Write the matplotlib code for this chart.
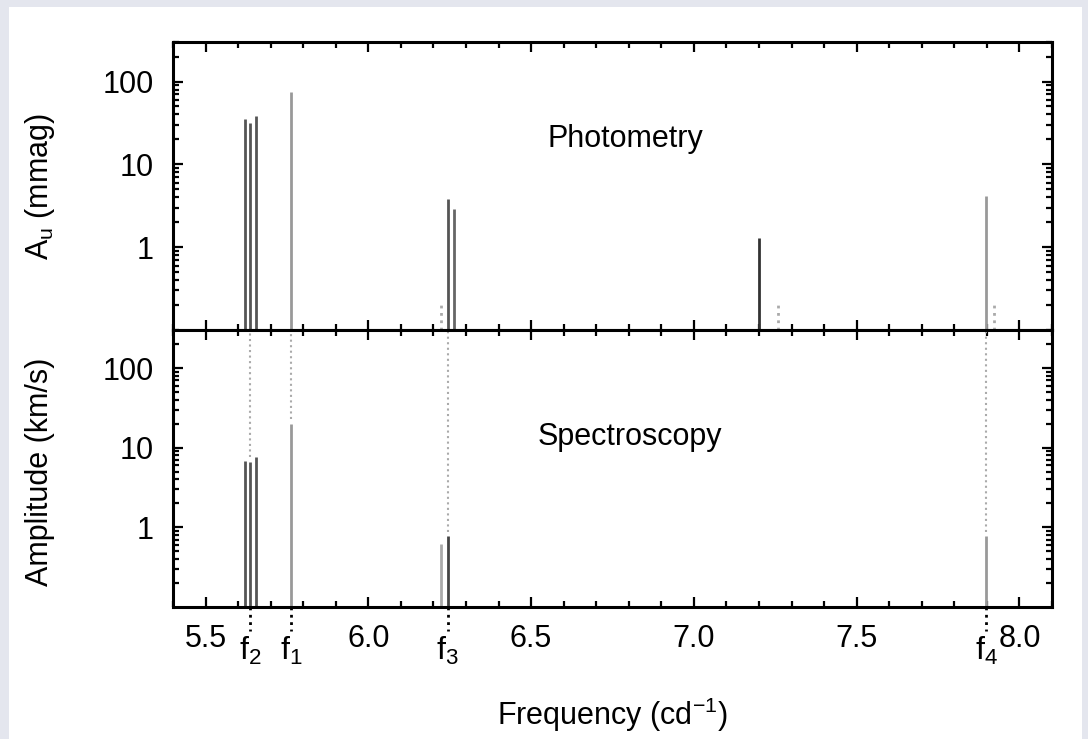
import matplotlib.pyplot as plt
from matplotlib.patches import Rectangle
from matplotlib.ticker import MultipleLocator, LogLocator, FixedLocator, NullFormatter
import matplotlib.transforms as mtransforms

plt.rcParams['font.family'] = ['Liberation Sans', 'DejaVu Sans']
plt.rcParams['mathtext.fontset'] = 'custom'
plt.rcParams['mathtext.rm'] = 'Liberation Sans'
plt.rcParams['mathtext.it'] = 'Liberation Sans'

# photometry (top panel)
phot_freq = [5.6200, 5.6372, 5.6536, 5.7633, 6.2434, 6.2622, 7.2009, 7.8982]
phot_amp = [35, 32, 38, 74, 3.8, 2.9, 1.3, 4.2]
phot_col = ['#555555', '#555555', '#555555', '#999999', '#555555', '#666666', '#333333', '#999999']
# small dotted markers in photometry
mark_freq = [6.224, 7.258, 7.922]
mark_amp = [0.2, 0.2, 0.2]

# spectroscopy (bottom panel)
spec_freq = [5.6200, 5.6372, 5.6536, 5.7633, 6.2230, 6.2434, 7.8982]
spec_amp = [6.9, 6.7, 7.6, 20, 0.62, 0.77, 0.77]
spec_col = ['#555555', '#555555', '#555555', '#999999', '#aaaaaa', '#444444', '#999999']

# labelled mode frequencies
mode_freq = [5.6372, 5.7633, 6.2434, 7.8982]
mode_amp = [6.7, 20, 0.77, 0.77]
mode_lab = ['2', '1', '3', '4']

FS = 22

fig = plt.figure(figsize=(10.88, 7.39), dpi=100)
fig.patch.set_facecolor('#e4e6ee')
fig.patches.append(Rectangle((9 / 1088, 0), (1082 - 9) / 1088, 1 - 7 / 739,
                             transform=fig.transFigure, facecolor='white',
                             edgecolor='none', zorder=-10))

left, width = 173 / 1088, (1052 - 173) / 1088
ax1 = fig.add_axes([left, 1 - 330 / 739, width, 288 / 739])
ax2 = fig.add_axes([left, 1 - 607 / 739, width, 277 / 739])

for ax in (ax1, ax2):
    ax.set_yscale('log')
    ax.set_ylim(0.1, 300)
    ax.set_xlim(5.4, 8.1)
    ax.xaxis.set_major_locator(MultipleLocator(0.5))
    ax.xaxis.set_minor_locator(MultipleLocator(0.1))
    ax.yaxis.set_major_locator(FixedLocator([1, 10, 100]))
    ax.yaxis.set_minor_locator(LogLocator(base=10, subs=range(2, 10)))
    ax.yaxis.set_minor_formatter(NullFormatter())
    ax.set_yticklabels(['1', '10', '100'])
    ax.tick_params(which='both', direction='in', top=True, right=True,
                   width=1.6, labelsize=FS, pad=12)
    ax.tick_params(axis='y', pad=14)
    ax.tick_params(which='major', length=7)
    ax.tick_params(which='minor', length=4)
    for s in ax.spines.values():
        s.set_linewidth(2.2)

ax1.tick_params(axis='x', labelbottom=False)

for f, a, c in zip(phot_freq, phot_amp, phot_col):
    ax1.vlines(f, 0.1, a, color=c, linewidth=2.0)
ax1.vlines(mark_freq, 0.1, mark_amp, color='#aaaaaa', linewidth=2.0, linestyles=':')

for f, a, c in zip(spec_freq, spec_amp, spec_col):
    ax2.vlines(f, 0.1, a, color=c, linewidth=2.0)

# guide lines for the mode frequencies
trans = mtransforms.blended_transform_factory(ax2.transData, ax2.transAxes)
for f, a, lab in zip(mode_freq, mode_amp, mode_lab):
    ax2.vlines(f, a * 1.15, 300, color='#aaaaaa', linewidth=1.5, linestyles=':')
    ax2.plot([f, f], [0, -0.085], transform=trans, color='black', linewidth=2.0,
             linestyle=':', clip_on=False)
    ax2.text(f, -0.1, r'$\mathregular{f_{%s}}$' % lab, transform=trans,
             ha='center', va='top', fontsize=FS + 1)

ax1.text(6.55, 20, 'Photometry', ha='left', va='center', fontsize=FS)
ax2.text(6.52, 13.5, 'Spectroscopy', ha='left', va='center', fontsize=FS)

fig.text(40 / 1088, 1 - 186 / 739, r'A$_\mathregular{u}$ (mmag)', rotation=90,
         ha='center', va='center', fontsize=FS)
fig.text(40 / 1088, 1 - 472 / 739, 'Amplitude (km/s)', rotation=90,
         ha='center', va='center', fontsize=FS)
fig.text(612 / 1088, 1 - 715 / 739, r'Frequency (cd$^{\mathregular{-1}}$)',
         ha='center', va='center', fontsize=FS)

fig.savefig('out.png', dpi=100, facecolor=fig.get_facecolor())
